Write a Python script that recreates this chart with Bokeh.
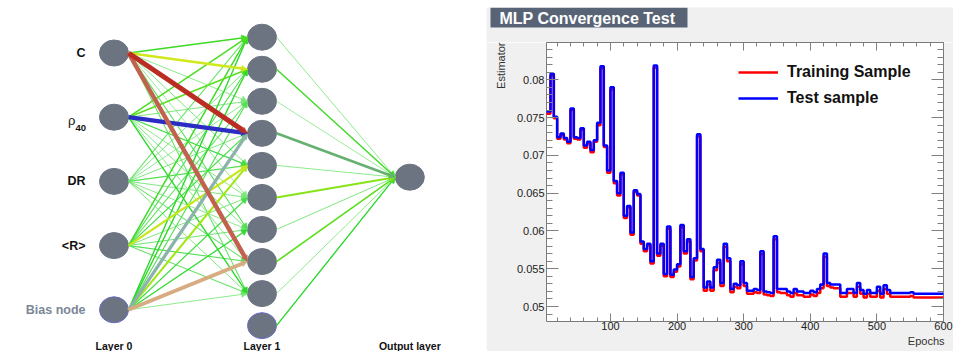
import numpy as np
from bokeh.plotting import figure
from bokeh.models import (Range1d, LinearAxis, SingleIntervalTicker, CustomJSTickFormatter,
                          Legend, LegendItem, Title, Arrow, NormalHead, Spacer)
from bokeh.layouts import row, column
from bokeh.core.properties import value
from bokeh.embed import file_html
from bokeh.resources import INLINE

FONT = "Liberation Sans"
PANEL_GREY = "#f0f0f0"

# ------------------------------------------------------------------ network data
input_names = ["C", "ρ", "DR", "<R>", "Bias node"]
input_subscripts = ["", "40", "", "", ""]
n_hidden = 10            # the last hidden node is the bias node of layer 1
layer_titles = ["Layer 0", "Layer 1", "Output layer"]

# weights input -> hidden (rows: C, rho40, DR, <R>, bias ; columns: hidden nodes 1..9)
weights_in = [
    [0.18, 0.40, 0.05, 1.00, 0.06, 0.04, 0.10, 0.88, 0.08],
    [0.20, 0.22, 0.06, -0.85, 0.12, 0.05, 0.06, 0.05, 0.15],
    [0.08, 0.06, 0.05, 0.07, 0.10, 0.06, 0.05, 0.08, 0.06],
    [0.18, 0.10, 0.08, 0.12, 0.38, 0.06, 0.07, 0.10, 0.08],
    [0.15, 0.16, 0.10, -0.60, 0.32, 0.12, 0.14, 0.75, 0.05],
]
# weights hidden -> output (hidden nodes 1..10)
weights_out = [0.05, 0.18, 0.04, -0.45, 0.05, 0.28, 0.06, 0.22, 0.05, 0.15]

# ------------------------------------------------------------------ convergence data
plot_title = "MLP Convergence Test"
bin_width = 5
test_sample = [
    0.0758, 0.0758, 0.0808, 0.0751, 0.0724, 0.0729, 0.0723, 0.0718, 0.0762, 0.0724,
    0.0723, 0.0736, 0.0713, 0.0718, 0.0707, 0.0720, 0.0743, 0.0818, 0.0713, 0.0680,
    0.0790, 0.0666, 0.0650, 0.0677, 0.0620, 0.0633, 0.0598, 0.0654, 0.0649, 0.0586,
    0.0576, 0.0583, 0.0560, 0.0819, 0.0570, 0.0583, 0.0543, 0.0606, 0.0542, 0.0549,
    0.0556, 0.0608, 0.0573, 0.0589, 0.0539, 0.0564, 0.0728, 0.0576, 0.0525, 0.0533,
    0.0525, 0.0552, 0.0562, 0.0531, 0.0583, 0.0564, 0.0523, 0.0530, 0.0528, 0.0560,
    0.0531, 0.0521, 0.0521, 0.0523, 0.0522, 0.0573, 0.0520, 0.0519, 0.0518, 0.0593,
    0.0523, 0.0523, 0.0523, 0.0520, 0.0518, 0.0523, 0.0520, 0.0520, 0.0518, 0.0518,
    0.0521, 0.0519, 0.0523, 0.0529, 0.0570, 0.0531, 0.0529, 0.0529, 0.0529, 0.0518,
    0.0518, 0.0523, 0.0523, 0.0518, 0.0531, 0.0522, 0.0517, 0.0522, 0.0518, 0.0518,
    0.0526, 0.0517, 0.0528, 0.0522, 0.0518, 0.0518, 0.0518, 0.0518, 0.0518, 0.0518,
    0.0519, 0.0517, 0.0517, 0.0517, 0.0517, 0.0517, 0.0517, 0.0517, 0.0517, 0.0517,
]
training_sample = [
    0.0755, 0.0755, 0.0805, 0.0749, 0.0722, 0.0727, 0.0721, 0.0716, 0.0760, 0.0722,
    0.0721, 0.0734, 0.0710, 0.0716, 0.0704, 0.0718, 0.0740, 0.0815, 0.0711, 0.0677,
    0.0787, 0.0663, 0.0647, 0.0675, 0.0617, 0.0631, 0.0595, 0.0652, 0.0647, 0.0583,
    0.0573, 0.0581, 0.0557, 0.0816, 0.0567, 0.0580, 0.0540, 0.0603, 0.0539, 0.0546,
    0.0553, 0.0605, 0.0570, 0.0586, 0.0536, 0.0561, 0.0725, 0.0573, 0.0521, 0.0529,
    0.0521, 0.0548, 0.0558, 0.0527, 0.0579, 0.0560, 0.0519, 0.0526, 0.0524, 0.0556,
    0.0527, 0.0517, 0.0517, 0.0519, 0.0518, 0.0569, 0.0516, 0.0515, 0.0514, 0.0589,
    0.0519, 0.0518, 0.0518, 0.0515, 0.0513, 0.0518, 0.0515, 0.0515, 0.0513, 0.0513,
    0.0516, 0.0514, 0.0518, 0.0524, 0.0566, 0.0527, 0.0525, 0.0524, 0.0524, 0.0513,
    0.0513, 0.0518, 0.0518, 0.0513, 0.0526, 0.0517, 0.0512, 0.0517, 0.0513, 0.0513,
    0.0521, 0.0512, 0.0523, 0.0517, 0.0513, 0.0513, 0.0513, 0.0513, 0.0513, 0.0513,
    0.0514, 0.0512, 0.0512, 0.0512, 0.0512, 0.0512, 0.0512, 0.0512, 0.0512, 0.0512,
]

# ================================================================== network diagram
net = figure(width=480, height=351, x_range=Range1d(0, 480), y_range=Range1d(351, 0),
             output_backend="svg", toolbar_location=None, min_border=0,
             x_axis_location=None, y_axis_location=None)
net.grid.visible = False
net.outline_line_color = None
net.frame_align = False

layer_x = [113.5, 261.5, 409.3]
in_y = [52.5 + 64.2 * i for i in range(len(input_names))]
hid_y = [36.7 + 32.05 * j for j in range(n_hidden)]
out_y = [176.7]
node_rx = 14.5

# colour scale for the synapse weights
stops = [(-1.0, (40, 40, 200)), (-0.8, (45, 45, 195)), (-0.6, (140, 178, 172)),
         (-0.4, (90, 175, 95)), (-0.15, (40, 215, 40)), (0.0, (175, 240, 175)),
         (0.15, (40, 215, 40)), (0.3, (150, 230, 20)), (0.42, (220, 232, 30)),
         (0.6, (225, 215, 90)), (0.75, (214, 172, 128)), (0.88, (192, 98, 78)),
         (1.0, (185, 45, 35))]


def weight_color(w):
    for (w0, c0), (w1, c1) in zip(stops, stops[1:]):
        if w <= w1:
            t = (w - w0) / (w1 - w0)
            return "#%02x%02x%02x" % tuple(round(a + (b - a) * t) for a, b in zip(c0, c1))
    return "#%02x%02x%02x" % stops[-1][1]


def weight_width(w):
    return 0.7 + 4.3 * abs(w)


synapses = []
for i, row_w in enumerate(weights_in):
    for j, w in enumerate(row_w):
        synapses.append((layer_x[0] + node_rx, in_y[i], layer_x[1] - node_rx, hid_y[j], w))
for j, w in enumerate(weights_out):
    synapses.append((layer_x[1] + node_rx, hid_y[j], layer_x[2] - node_rx, out_y[0], w))
synapses.sort(key=lambda s: abs(s[4]))

for x0, y0, x1, y1, w in synapses:
    c = weight_color(w)
    net.add_layout(Arrow(x_start=x0, y_start=y0, x_end=x1, y_end=y1,
                         line_color=c, line_width=weight_width(w),
                         end=NormalHead(size=6, fill_color=c, line_color=c, line_width=0.5)))

node_fill = "#6b7480"
bias_edge = "#6b6bc8"
all_x = [layer_x[0]] * len(in_y) + [layer_x[1]] * len(hid_y) + [layer_x[2]]
all_y = in_y + hid_y + out_y
edge_cols = [node_fill] * len(all_x)
edge_cols[len(in_y) - 1] = bias_edge
edge_cols[len(in_y) + n_hidden - 1] = bias_edge
net.ellipse(x=all_x, y=all_y, width=29, height=26, fill_color=node_fill,
            line_color=edge_cols, line_width=1)

lab_x = 85
name_cols = ["#111111"] * 4 + ["#7c8797"]
for i, (name, sub) in enumerate(zip(input_names, input_subscripts)):
    if sub:
        net.text(x=[lab_x - 10], y=[in_y[i] + 3.5], text=[name], text_align="right",
                 text_baseline="alphabetic", text_font=value(FONT), text_font_size="13px",
                 text_color=name_cols[i])
        net.text(x=[lab_x - 10], y=[in_y[i] + 11], text=[sub], text_align="left",
                 text_baseline="alphabetic", text_font=value(FONT), text_font_style="bold",
                 text_font_size="9.5px", text_color=name_cols[i])
    else:
        net.text(x=[lab_x], y=[in_y[i]], text=[name], text_align="right",
                 text_baseline="middle", text_font=value(FONT), text_font_style="bold",
                 text_font_size="12.5px", text_color=name_cols[i])

net.text(x=layer_x, y=[345] * 3, text=layer_titles, text_align="center",
         text_baseline="middle", text_font=value(FONT), text_font_style="bold",
         text_font_size="10.5px", text_color="#111111")

# ================================================================== title strip
head = figure(width=467, height=35, x_range=Range1d(0, 467), y_range=Range1d(35, 0),
              output_backend="svg", toolbar_location=None, min_border=0,
              x_axis_location=None, y_axis_location=None,
              background_fill_color=PANEL_GREY, border_fill_color=PANEL_GREY)
head.grid.visible = False
head.outline_line_color = None
head.frame_align = False
head.quad(left=[4], right=[201], top=[0], bottom=[20], fill_color="#586475", line_color=None)
head.text(x=[13], y=[10.5], text=[plot_title], text_align="left", text_baseline="middle",
          text_font=value(FONT), text_font_style="bold", text_font_size="16px",
          text_color="white")

# ================================================================== convergence test
conv = figure(width=467, height=309, x_range=Range1d(4, 600), y_range=Range1d(0.048015, 0.084936),
              output_backend="svg", toolbar_location=None, title=None,
              min_border_left=57, min_border_right=10, min_border_top=0, min_border_bottom=30,
              background_fill_color="white", border_fill_color=PANEL_GREY)
conv.grid.visible = False
conv.outline_line_color = "#7a7a7a"
conv.outline_line_width = 1
conv.frame_align = False

edges = np.arange(len(test_sample) + 1) * bin_width
r_train = conv.step(x=edges, y=training_sample + [training_sample[-1]], mode="after",
                    line_color="#ff0000", line_width=2.5)
r_test = conv.step(x=edges, y=test_sample + [test_sample[-1]], mode="after",
                   line_color="#0000ff", line_width=2.5)

conv.xaxis.ticker = SingleIntervalTicker(interval=100, num_minor_ticks=5)
conv.yaxis.ticker = SingleIntervalTicker(interval=0.005, num_minor_ticks=5)
conv.yaxis.formatter = CustomJSTickFormatter(code="return (Math.round(tick*1000)/1000).toString()")
conv.add_layout(LinearAxis(ticker=SingleIntervalTicker(interval=100, num_minor_ticks=5),
                           formatter=CustomJSTickFormatter(code="return ''"),
                           major_label_text_font_size="0px"), "above")
conv.add_layout(LinearAxis(ticker=SingleIntervalTicker(interval=0.005, num_minor_ticks=5),
                           formatter=CustomJSTickFormatter(code="return ''"),
                           major_label_text_font_size="0px"), "right")

for ax in conv.xaxis:
    ax.major_tick_in, ax.major_tick_out = 8, 0
    ax.minor_tick_in, ax.minor_tick_out = 4, 0
for ax in conv.yaxis:
    ax.major_tick_in, ax.major_tick_out = 12, 0
    ax.minor_tick_in, ax.minor_tick_out = 6, 0
for ax in conv.axis:
    ax.axis_line_color = None
    ax.major_tick_line_color = "#808080"
    ax.minor_tick_line_color = "#808080"
    ax.major_label_text_font = FONT
    ax.major_label_text_color = "#222222"
conv.xaxis[0].major_label_text_font_size = "11px"
conv.yaxis[0].major_label_text_font_size = "11px"
conv.xaxis[0].major_label_standoff = 3
conv.yaxis[0].major_label_standoff = 2
conv.xaxis[1].major_label_standoff = 0
conv.yaxis[1].major_label_standoff = 0

legend = Legend(items=[LegendItem(label="Training Sample", renderers=[r_train]),
                       LegendItem(label="Test sample", renderers=[r_test])],
                location=(192, 213), glyph_width=40, glyph_height=20, label_height=20,
                spacing=6, padding=0, margin=0, label_standoff=9,
                border_line_color=None, background_fill_alpha=0,
                label_text_font=FONT, label_text_font_style="bold",
                label_text_font_size="16px", label_text_color="#111111")
conv.add_layout(legend)

# axis titles sit at the far ends of their axes
conv.add_layout(Title(text="Epochs", align="right", offset=-1, standoff=0,
                      text_font=FONT, text_font_style="normal", text_font_size="11px",
                      text_color="#333333"), "below")
conv.add_layout(Title(text="Estimator", align="right", standoff=13,
                      text_font=FONT, text_font_style="normal", text_font_size="11px",
                      text_color="#333333"), "left")

right_panel = column(head, conv, spacing=0)
layout = row(net, column(Spacer(height=7), row(Spacer(width=6), right_panel)))
open("out.html", "w").write(file_html(layout, INLINE))
